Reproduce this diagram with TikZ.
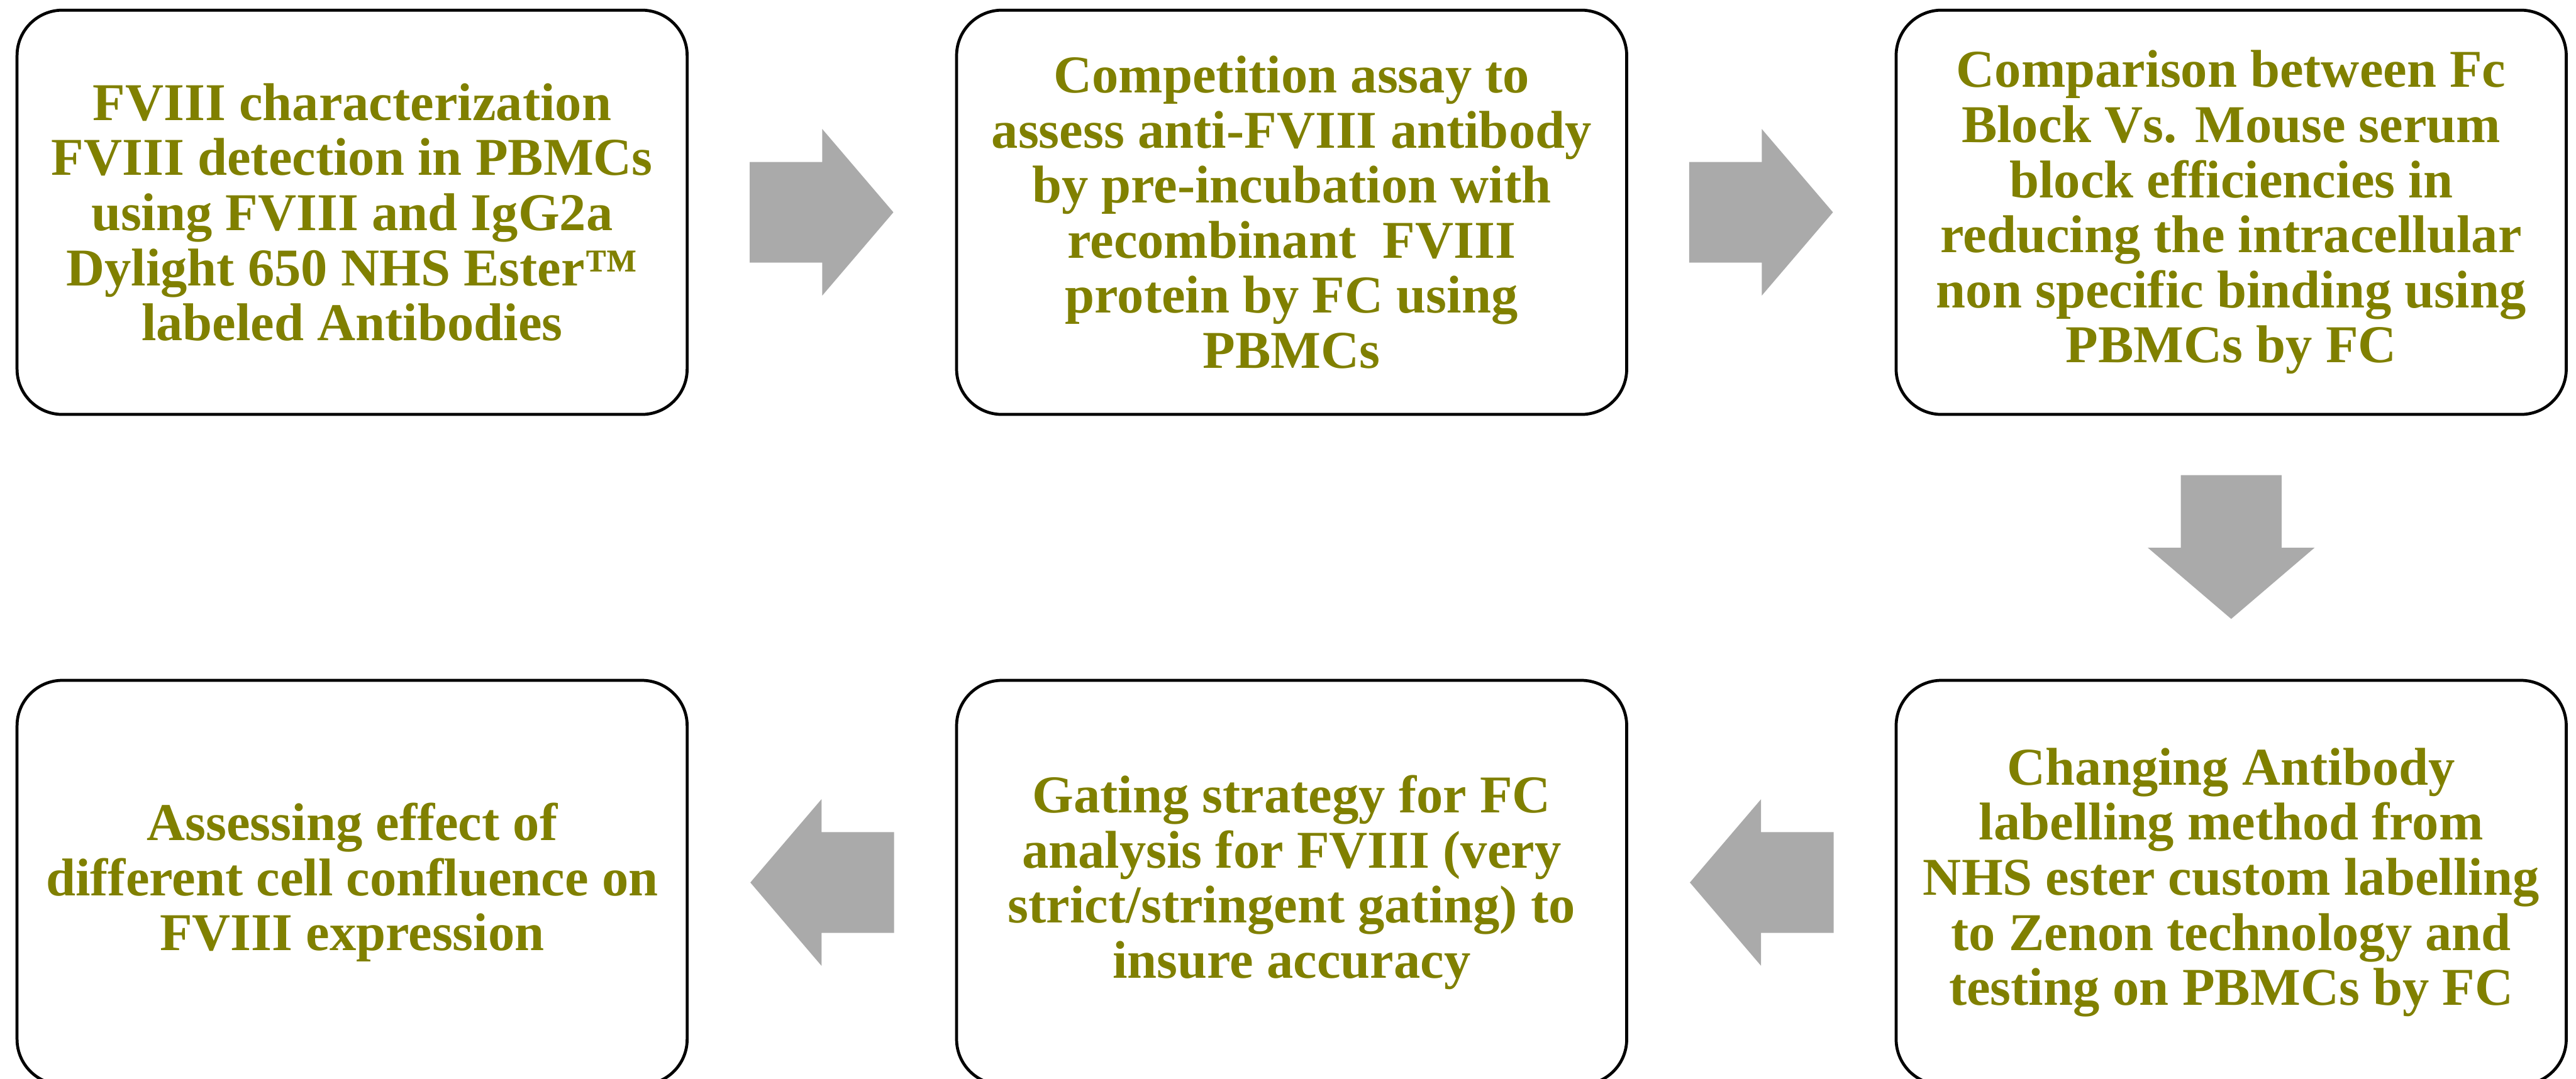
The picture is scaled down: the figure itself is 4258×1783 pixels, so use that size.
\documentclass[tikz,border=0pt]{standalone}
\usepackage{fontspec}
\setmainfont{Liberation Serif}
\usetikzlibrary{shapes.arrows, calc}

\definecolor{stepolive}{RGB}{128,128,0}
\definecolor{arrowgray}{RGB}{170,170,170}

\begin{document}
\begin{tikzpicture}[
    x=0.01cm,
    y=-0.01cm,
    stage/.style={rectangle, draw=black, line width=1.4pt, rounded corners=0.75cm,
                  minimum width=11.07cm, minimum height=6.68cm, inner sep=0pt,
                  align=center, text=stepolive,
                  font=\fontsize{25}{25.9}\selectfont\bfseries},
    blockarrow/.style={single arrow, fill=arrowgray, draw=none, inner sep=0.825cm,
                  minimum height=2.33cm, anchor=tail,
                  single arrow head extend=0.545cm, single arrow tip angle=99}
]
\useasboundingbox (0,0) rectangle (4258,1783);

%---------------- Steps ----------------
\foreach \name/\x/\y/\txt in {
    b1/582/351/{FVIII characterization\\FVIII detection in PBMCs\\using FVIII and IgG2a\\Dylight 650 NHS Ester™\\labeled Antibodies},
    b2/2135/351/{Competition assay to\\assess anti-FVIII antibody\\by pre-incubation with\\recombinant\ \ FVIII\\protein by FC using\\PBMCs},
    b3/3688/351/{Comparison between Fc\\Block Vs. Mouse serum\\block efficiencies in\\reducing the intracellular\\non specific binding using\\PBMCs by FC},
    b6/3688/1459/{Changing Antibody\\labelling method from\\NHS ester custom labelling\\to Zenon technology and\\testing on PBMCs by FC},
    b5/2135/1459/{Gating strategy for FC\\analysis for FVIII (very\\strict/stringent gating) to\\insure accuracy},
    b4/582/1459/{Assessing effect of\\different cell confluence on\\FVIII expression}} {
    \node[stage] (\name) at (\x,\y) {\txt};
}

%---------------- Arrows ----------------
\foreach \from/\to/\dir in {b1/b2/0, b2/b3/0, b3/b6/270, b6/b5/180, b5/b4/180} {
    \node[blockarrow, shape border rotate=\dir] (\from-\to)
        at ($(\from)!0.5!(\to)!1.2cm!(\from)$) {};
}
\end{tikzpicture}
\end{document}
